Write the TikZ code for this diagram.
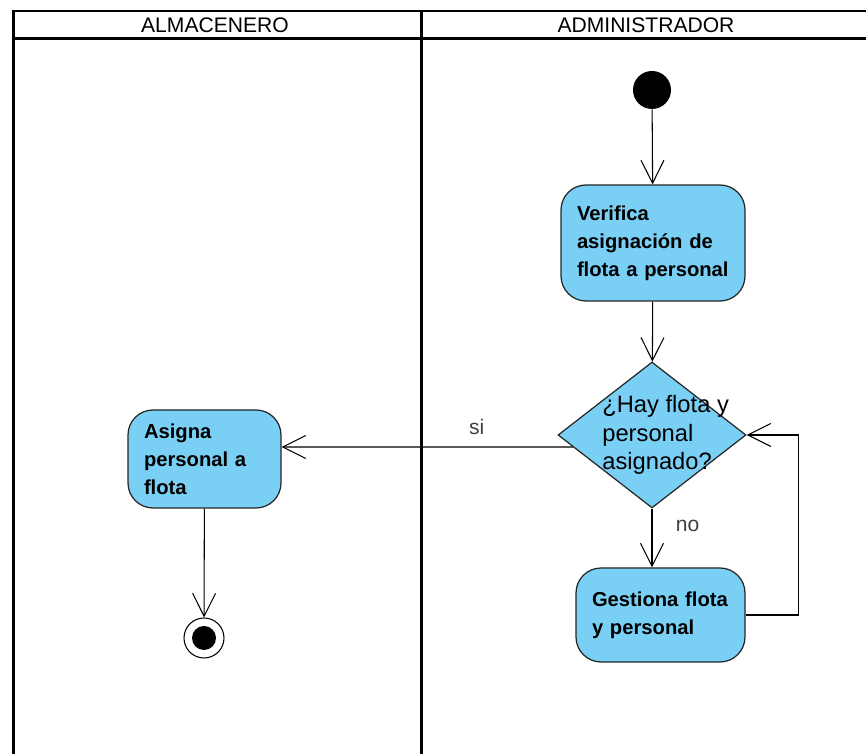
\documentclass[tikz,border=0pt]{standalone}
\usepackage{fontspec}
\setmainfont{Liberation Sans}
\usetikzlibrary{shapes.geometric,arrows.meta,calc}
\definecolor{actblue}{RGB}{122,207,245}

\begin{document}
\begin{tikzpicture}[act/.style={draw=black!85, line width=0.7pt, fill=actblue, rounded corners=0.5cm,
                      align=left, inner xsep=0.32cm, inner ysep=0pt,
                      font=\fontsize{11.5}{16}\selectfont\bfseries},
                    decision/.style={diamond, draw=black!85, line width=0.7pt, fill=actblue,
                      minimum width=3.76cm, minimum height=2.92cm, inner sep=0pt},
                    dectext/.style={align=left, inner sep=0pt, font=\fontsize{13.5}{16.4}\selectfont},
                    flow/.style={line width=0.6pt, -{Straight Barb[length=0.46cm,width=0.46cm]}},
                    lane/.style={line width=1.6pt},
                    lbl/.style={font=\fontsize{12}{14}\selectfont}]
\useasboundingbox (0,0) rectangle (17.32,15.08);
\clip (0,0) rectangle (17.32,15.08);
% swimlanes
\draw[lane] (0.27,-0.5) -- (0.27,14.86) -- (17.8,14.86);
\draw[lane] (0.27,14.31) -- (17.8,14.31);
\draw[lane] (8.43,-0.5) -- (8.43,14.86);
\node[lbl] (almacenero) at (4.30,14.58) {ALMACENERO};
\node[lbl] (administrador) at (12.92,14.58) {ADMINISTRADOR};
% activities
\node[circle, fill=black, minimum size=0.76cm, inner sep=0pt] (start) at (13.04,13.28) {};
\node[act, text width=3.04cm, minimum height=2.32cm] (verifica) at (13.06,10.22)
  {Verifica\\asignación de\\flota a personal};
\node[decision] (dec) at (13.04,6.38) {};
\node[dectext, anchor=west] (dectxt) at ($(dec.center)+(-1.0,0)$) {¿Hay flota y\\personal\\asignado?};
\node[act, text width=2.42cm, minimum height=1.96cm] (asigna) at (4.09,5.90)
  {Asigna\\personal a\\flota};
\node[act, text width=2.74cm, minimum height=1.88cm] (gestiona) at (13.21,2.78)
  {Gestiona flota\\y personal};
\node[circle, draw, line width=0.6pt, fill=white, minimum size=0.8cm, inner sep=0pt] (fin) at (4.08,2.32) {};
\fill (fin.center) circle (0.24cm);
% flows
\draw[flow] (start) -- (verifica);
\draw[flow] (verifica) -- (dec);
\draw[flow] ($(dec.west)+(0.31,-0.24)$) -- ($(asigna.east)+(0,0.24)$)
  node[lbl, text=black!75, pos=0.33, above=0.12cm] (si) {si};
\draw[flow] (dec.south) -- (dec.south |- gestiona.north)
  node[lbl, text=black!75, pos=0.3, right=0.35cm] (no) {no};
\draw[flow] (gestiona.east) -- ++(1.06,0) |- (dec.east);
\draw[flow] (asigna) -- (fin);
\end{tikzpicture}
\end{document}
